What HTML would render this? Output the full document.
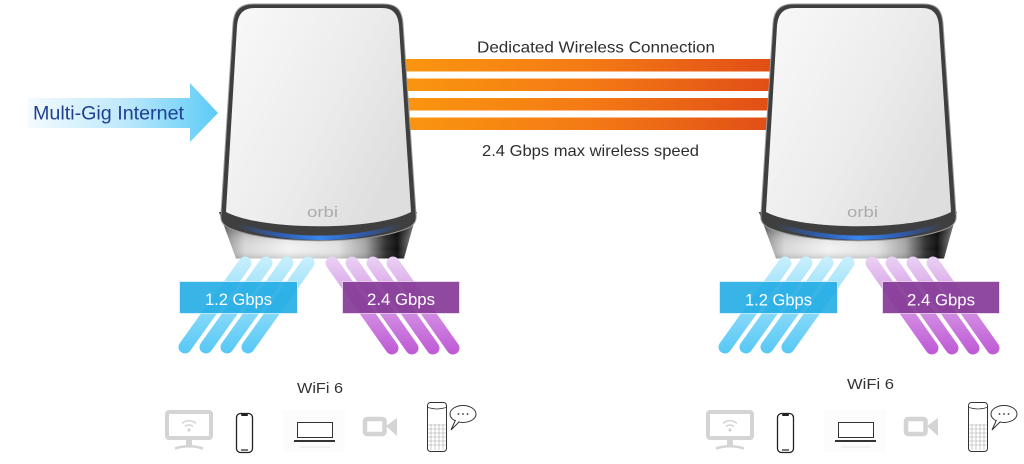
<!DOCTYPE html>
<html>
<head>
<meta charset="utf-8">
<style>
  html,body{margin:0;padding:0;background:#fff;}
  svg{display:block;}
  text{font-family:"Liberation Sans", sans-serif;}
</style>
</head>
<body>
<svg width="1024" height="464" viewBox="0 0 1024 464" xmlns="http://www.w3.org/2000/svg">
  <defs>
    <linearGradient id="og" x1="0" y1="0" x2="1" y2="0">
      <stop offset="0" stop-color="#fa960f"/>
      <stop offset="0.5" stop-color="#f47a15"/>
      <stop offset="1" stop-color="#e04d16"/>
    </linearGradient>
    <linearGradient id="arrowg" x1="28" y1="0" x2="218" y2="0" gradientUnits="userSpaceOnUse">
      <stop offset="0" stop-color="#f4fbfe"/>
      <stop offset="0.5" stop-color="#bfe9fb"/>
      <stop offset="1" stop-color="#5ccbf6"/>
    </linearGradient>
    <linearGradient id="blueb" x1="0" y1="258" x2="0" y2="352" gradientUnits="userSpaceOnUse">
      <stop offset="0" stop-color="#c8effc"/>
      <stop offset="1" stop-color="#58c9f6"/>
    </linearGradient>
    <linearGradient id="purpb" x1="0" y1="258" x2="0" y2="352" gradientUnits="userSpaceOnUse">
      <stop offset="0" stop-color="#e9d0f3"/>
      <stop offset="1" stop-color="#c05cd6"/>
    </linearGradient>
    <linearGradient id="face" x1="0" y1="0" x2="1" y2="0.6">
      <stop offset="0" stop-color="#f9f9f9"/>
      <stop offset="0.6" stop-color="#ececec"/>
      <stop offset="1" stop-color="#dedede"/>
    </linearGradient>
    <linearGradient id="chrome" x1="0" y1="0" x2="1" y2="0">
      <stop offset="0" stop-color="#5e5e5e"/>
      <stop offset="0.05" stop-color="#a0a0a0"/>
      <stop offset="0.13" stop-color="#d8d8d8"/>
      <stop offset="0.35" stop-color="#f2f2f2"/>
      <stop offset="0.6" stop-color="#e2e2e2"/>
      <stop offset="0.74" stop-color="#a6a6a6"/>
      <stop offset="0.84" stop-color="#303030"/>
      <stop offset="0.9" stop-color="#0e0e0e"/>
      <stop offset="0.95" stop-color="#5a5a5a"/>
      <stop offset="1" stop-color="#c4c4c4"/>
    </linearGradient>
    <linearGradient id="chromev" x1="0" y1="0" x2="0" y2="1">
      <stop offset="0" stop-color="#000" stop-opacity="0.6"/>
      <stop offset="0.45" stop-color="#000" stop-opacity="0.15"/>
      <stop offset="0.8" stop-color="#fff" stop-opacity="0"/>
      <stop offset="1" stop-color="#000" stop-opacity="0.15"/>
    </linearGradient>
    <linearGradient id="led" x1="0" y1="0" x2="1" y2="0">
      <stop offset="0" stop-color="#2b62c8" stop-opacity="0"/>
      <stop offset="0.25" stop-color="#2b62c8" stop-opacity="0.8"/>
      <stop offset="0.5" stop-color="#3a86ec"/>
      <stop offset="0.75" stop-color="#2b62c8" stop-opacity="0.8"/>
      <stop offset="1" stop-color="#2b62c8" stop-opacity="0"/>
    </linearGradient>
  </defs>

  <!-- Orange backhaul bars -->
  <rect x="400" y="59" width="376" height="12.5" fill="url(#og)"/>
  <rect x="400" y="78.5" width="376" height="12.5" fill="url(#og)"/>
  <rect x="400" y="98" width="376" height="12.5" fill="url(#og)"/>
  <rect x="400" y="117.5" width="376" height="12.5" fill="url(#og)"/>

  <text x="477" y="52.5" font-size="16" fill="#2e2e2e" textLength="238" lengthAdjust="spacingAndGlyphs">Dedicated Wireless Connection</text>
  <text x="482" y="156" font-size="16" fill="#2e2e2e" textLength="217" lengthAdjust="spacingAndGlyphs">2.4 Gbps max wireless speed</text>

  <!-- Multi-Gig arrow -->
  <path d="M28,98 L190,98 L190,83 L218,113 L190,142 L190,128 L28,128 Z" fill="url(#arrowg)"/>
  <text x="33" y="119.5" font-size="19" fill="#1f3f93" textLength="151" lengthAdjust="spacingAndGlyphs">Multi-Gig Internet</text>

  <!-- ===== LEFT ROUTER ===== -->
  <g>
    <path d="M219,212 L417,212 L404,258.5 L236,258.5 Z" fill="url(#chrome)"/>
    <path d="M219,212 L417,212 L404,258.5 L236,258.5 Z" fill="url(#chromev)"/>
    <path d="M221,214 L233,24 C234,10 240,4 254,4 L383,4 C397,4 402,10 403,24 L416,214 C417,221 414,225 408,228 C370,245 268,245 229,228 C223,225 220,221 221,214 Z" fill="#3f3f3f" stroke="#9a9a9a" stroke-width="1"/>
    <path d="M236,225 C290,242 350,242 402,225" fill="none" stroke="url(#led)" stroke-width="4.5"/>
    <path d="M226,212 L237,26 C238,14 243,8 255,8 L382,8 C393,8 398,14 399,26 L411,212 C376,231 262,231 226,212 Z" fill="url(#face)"/>
    <text x="307" y="217" font-size="15" fill="#ababab" textLength="31" lengthAdjust="spacingAndGlyphs">orbi</text>
  </g>

  <!-- ===== RIGHT ROUTER ===== -->
  <g transform="translate(540,0)">
    <path d="M219,212 L417,212 L404,258.5 L236,258.5 Z" fill="url(#chrome)"/>
    <path d="M219,212 L417,212 L404,258.5 L236,258.5 Z" fill="url(#chromev)"/>
    <path d="M221,214 L233,24 C234,10 240,4 254,4 L383,4 C397,4 402,10 403,24 L416,214 C417,221 414,225 408,228 C370,245 268,245 229,228 C223,225 220,221 221,214 Z" fill="#3f3f3f" stroke="#9a9a9a" stroke-width="1"/>
    <path d="M236,225 C290,242 350,242 402,225" fill="none" stroke="url(#led)" stroke-width="4.5"/>
    <path d="M226,212 L237,26 C238,14 243,8 255,8 L382,8 C393,8 398,14 399,26 L411,212 C376,231 262,231 226,212 Z" fill="url(#face)"/>
    <text x="307" y="217" font-size="15" fill="#ababab" textLength="31" lengthAdjust="spacingAndGlyphs">orbi</text>
  </g>

  <!-- ===== LEFT BEAMS ===== -->
  <g stroke-linecap="round" stroke-width="13" fill="none">
    <g stroke="url(#blueb)">
      <line x1="245" y1="263" x2="185" y2="347"/>
      <line x1="266" y1="263" x2="206" y2="347"/>
      <line x1="287" y1="263" x2="227" y2="347"/>
      <line x1="308" y1="263" x2="248" y2="347"/>
    </g>
    <g stroke="url(#purpb)">
      <line x1="332" y1="263" x2="392" y2="348"/>
      <line x1="352" y1="263" x2="412" y2="348"/>
      <line x1="373" y1="263" x2="433" y2="348"/>
      <line x1="393" y1="263" x2="453" y2="348"/>
    </g>
  </g>
  <rect x="179.5" y="281.5" width="118" height="32" fill="#22ace4" fill-opacity="0.9" stroke="#ffffff" stroke-opacity="0.6" stroke-width="1"/>
  <text x="205" y="305" font-size="17" fill="#ffffff" textLength="67" lengthAdjust="spacingAndGlyphs">1.2 Gbps</text>
  <rect x="342.5" y="281.5" width="117" height="32" fill="#853b97" fill-opacity="0.92" stroke="#ffffff" stroke-opacity="0.6" stroke-width="1"/>
  <text x="367" y="305" font-size="17" fill="#ffffff" textLength="68" lengthAdjust="spacingAndGlyphs">2.4 Gbps</text>

  <!-- ===== RIGHT BEAMS ===== -->
  <g transform="translate(540,0)">
    <g stroke-linecap="round" stroke-width="13" fill="none">
      <g stroke="url(#blueb)">
        <line x1="245" y1="263" x2="185" y2="347"/>
        <line x1="266" y1="263" x2="206" y2="347"/>
        <line x1="287" y1="263" x2="227" y2="347"/>
        <line x1="308" y1="263" x2="248" y2="347"/>
      </g>
      <g stroke="url(#purpb)">
        <line x1="332" y1="263" x2="392" y2="348"/>
        <line x1="352" y1="263" x2="412" y2="348"/>
        <line x1="373" y1="263" x2="433" y2="348"/>
        <line x1="393" y1="263" x2="453" y2="348"/>
      </g>
    </g>
    <rect x="179.5" y="281.5" width="118" height="32" fill="#22ace4" fill-opacity="0.9" stroke="#ffffff" stroke-opacity="0.6" stroke-width="1"/>
    <text x="205" y="305.5" font-size="17" fill="#ffffff" textLength="67" lengthAdjust="spacingAndGlyphs">1.2 Gbps</text>
    <rect x="342.5" y="281.5" width="117" height="32" fill="#853b97" fill-opacity="0.92" stroke="#ffffff" stroke-opacity="0.6" stroke-width="1"/>
    <text x="367" y="305.5" font-size="17" fill="#ffffff" textLength="68" lengthAdjust="spacingAndGlyphs">2.4 Gbps</text>
  </g>

  <!-- WiFi 6 labels -->
  <text x="297" y="393" font-size="14.5" fill="#333" textLength="46" lengthAdjust="spacingAndGlyphs">WiFi 6</text>
  <text x="847" y="389" font-size="14.5" fill="#333" textLength="47" lengthAdjust="spacingAndGlyphs">WiFi 6</text>

  <!-- ===== LEFT ICONS ===== -->
  <g>
    <rect x="167" y="412" width="44" height="26" rx="2" fill="none" stroke="#d4d4d4" stroke-width="4"/>
    <rect x="186" y="440" width="6" height="6" fill="#d4d4d4"/>
    <path d="M175,448.5 Q189,444 203,448.5" stroke="#d4d4d4" stroke-width="2.5" fill="none"/>
    <circle cx="189" cy="430" r="1.6" fill="#d4d4d4"/>
    <path d="M185,426.5 A6,6 0 0 1 193,426.5 M182,423.5 A10,10 0 0 1 196,423.5" stroke="#d4d4d4" stroke-width="1.5" fill="none"/>
    <rect x="236.5" y="413.5" width="16" height="39" rx="4" fill="#fff" stroke="#222" stroke-width="1.3"/>
    <rect x="241" y="414" width="7" height="2" rx="1" fill="#222"/>
    <line x1="241" y1="450" x2="248" y2="450" stroke="#222" stroke-width="1.2"/>
    <rect x="283" y="410" width="62" height="42" fill="#fcfcfc"/>
    <rect x="297.5" y="422.5" width="35" height="15" fill="#fff" stroke="#333" stroke-width="1"/>
    <rect x="294" y="440" width="41" height="2" fill="#333"/>
    <line x1="300" y1="447" x2="330" y2="447" stroke="#e6e6e6" stroke-width="1"/>
    <rect x="365" y="419" width="19.5" height="15" rx="2" fill="none" stroke="#d4d4d4" stroke-width="4.5"/>
    <path d="M386,426 L397,418 L397,436 Z" fill="#d4d4d4"/>
    <rect x="427.5" y="402.5" width="19" height="49" rx="3" fill="#fff" stroke="#333" stroke-width="1"/>
    <path d="M428,407.5 Q437,410.5 446,407.5" stroke="#333" stroke-width="0.8" fill="none"/>
    <g stroke="#aaa" stroke-width="0.6">
      <line x1="428" y1="425" x2="446" y2="425"/>
      <line x1="428" y1="429" x2="446" y2="429"/>
      <line x1="428" y1="433" x2="446" y2="433"/>
      <line x1="428" y1="437" x2="446" y2="437"/>
      <line x1="428" y1="441" x2="446" y2="441"/>
      <line x1="428" y1="445" x2="446" y2="445"/>
      <line x1="431" y1="424" x2="431" y2="450"/>
      <line x1="435" y1="424" x2="435" y2="450"/>
      <line x1="439" y1="424" x2="439" y2="450"/>
      <line x1="443" y1="424" x2="443" y2="450"/>
    </g>
    <ellipse cx="463" cy="414" rx="13" ry="8.5" fill="#fff" stroke="#333" stroke-width="1"/>
    <path d="M455.5,420 L451,430 L459.5,421.5" fill="#fff" stroke="#333" stroke-width="1"/>
    <circle cx="458.5" cy="414" r="0.9" fill="#333"/>
    <circle cx="463" cy="414" r="0.9" fill="#333"/>
    <circle cx="467.5" cy="414" r="0.9" fill="#333"/>
  </g>

  <!-- ===== RIGHT ICONS ===== -->
  <g transform="translate(541,0)">
    <rect x="167" y="412" width="44" height="26" rx="2" fill="none" stroke="#d4d4d4" stroke-width="4"/>
    <rect x="186" y="440" width="6" height="6" fill="#d4d4d4"/>
    <path d="M175,448.5 Q189,444 203,448.5" stroke="#d4d4d4" stroke-width="2.5" fill="none"/>
    <circle cx="189" cy="430" r="1.6" fill="#d4d4d4"/>
    <path d="M185,426.5 A6,6 0 0 1 193,426.5 M182,423.5 A10,10 0 0 1 196,423.5" stroke="#d4d4d4" stroke-width="1.5" fill="none"/>
    <rect x="236.5" y="413.5" width="16" height="39" rx="4" fill="#fff" stroke="#222" stroke-width="1.3"/>
    <rect x="241" y="414" width="7" height="2" rx="1" fill="#222"/>
    <line x1="241" y1="450" x2="248" y2="450" stroke="#222" stroke-width="1.2"/>
    <rect x="283" y="410" width="62" height="42" fill="#fcfcfc"/>
    <rect x="297.5" y="422.5" width="35" height="15" fill="#fff" stroke="#333" stroke-width="1"/>
    <rect x="294" y="440" width="41" height="2" fill="#333"/>
    <line x1="300" y1="447" x2="330" y2="447" stroke="#e6e6e6" stroke-width="1"/>
    <rect x="365" y="419" width="19.5" height="15" rx="2" fill="none" stroke="#d4d4d4" stroke-width="4.5"/>
    <path d="M386,426 L397,418 L397,436 Z" fill="#d4d4d4"/>
    <rect x="427.5" y="402.5" width="19" height="49" rx="3" fill="#fff" stroke="#333" stroke-width="1"/>
    <path d="M428,407.5 Q437,410.5 446,407.5" stroke="#333" stroke-width="0.8" fill="none"/>
    <g stroke="#aaa" stroke-width="0.6">
      <line x1="428" y1="425" x2="446" y2="425"/>
      <line x1="428" y1="429" x2="446" y2="429"/>
      <line x1="428" y1="433" x2="446" y2="433"/>
      <line x1="428" y1="437" x2="446" y2="437"/>
      <line x1="428" y1="441" x2="446" y2="441"/>
      <line x1="428" y1="445" x2="446" y2="445"/>
      <line x1="431" y1="424" x2="431" y2="450"/>
      <line x1="435" y1="424" x2="435" y2="450"/>
      <line x1="439" y1="424" x2="439" y2="450"/>
      <line x1="443" y1="424" x2="443" y2="450"/>
    </g>
    <ellipse cx="463" cy="414" rx="13" ry="8.5" fill="#fff" stroke="#333" stroke-width="1"/>
    <path d="M455.5,420 L451,430 L459.5,421.5" fill="#fff" stroke="#333" stroke-width="1"/>
    <circle cx="458.5" cy="414" r="0.9" fill="#333"/>
    <circle cx="463" cy="414" r="0.9" fill="#333"/>
    <circle cx="467.5" cy="414" r="0.9" fill="#333"/>
  </g>
</svg>
</body>
</html>
